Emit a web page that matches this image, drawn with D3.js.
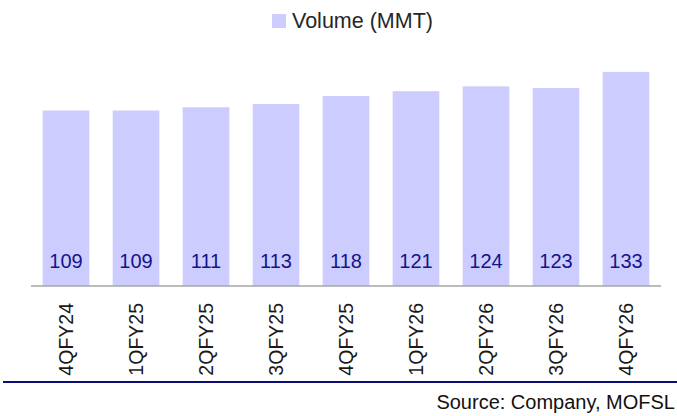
<!DOCTYPE html>
<html>
<head>
<meta charset="utf-8">
<script src="https://cdn.jsdelivr.net/npm/d3@7"></script>
<style>
  body { margin: 0; background: #fff; }
  svg { display: block; font-family: "Liberation Sans", Arial, sans-serif; }
</style>
</head>
<body>
<svg id="chart"></svg>
<script>
// Data
const quarters = ["4QFY24", "1QFY25", "2QFY25", "3QFY25", "4QFY25", "1QFY26", "2QFY26", "3QFY26", "4QFY26"];
const volume = [109, 109, 111, 113, 118, 121, 124, 123, 133];
const seriesName = "Volume (MMT)";
const sourceText = "Source: Company, MOFSL";

const width = 677;
const height = 416;

const svg = d3.select("#chart")
    .attr("width", width)
    .attr("height", height);

// Scales
const x = d3.scaleBand()
    .domain(quarters)
    .range([31, 661])
    .paddingInner(0.333)
    .paddingOuter(0.1667);

const y = d3.scaleLinear()
    .domain([0, 140])
    .range([286, 60.6]);

const rows = quarters.map((q, i) => ({ q: q, v: volume[i] }));

// Bars
svg.append("g")
    .selectAll("rect")
    .data(rows)
    .enter().append("rect")
    .attr("x", d => x(d.q))
    .attr("y", d => y(d.v))
    .attr("width", x.bandwidth())
    .attr("height", d => y(0) - y(d.v))
    .attr("fill", "#ccccff");

// Value labels, sitting near the base of each bar
svg.append("g")
    .selectAll("text")
    .data(rows)
    .enter().append("text")
    .attr("x", d => x(d.q) + x.bandwidth() / 2)
    .attr("y", 267.5)
    .attr("text-anchor", "middle")
    .attr("font-size", 20)
    .attr("fill", "#14148c")
    .text(d => d.v);

// X axis line
svg.append("line")
    .attr("x1", 31).attr("x2", 661)
    .attr("y1", 286).attr("y2", 286)
    .attr("stroke", "#a6a6a6")
    .attr("stroke-width", 1.6);

// Category labels (rotated)
svg.append("g")
    .selectAll("text")
    .data(quarters)
    .enter().append("text")
    .attr("transform", d => `translate(${x(d) + x.bandwidth() / 2 + 7},303) rotate(-90)`)
    .attr("text-anchor", "end")
    .attr("font-size", 19.5)
    .attr("fill", "#1a1a1a")
    .text(d => d);

// Legend
const legend = svg.append("g");
legend.append("rect")
    .attr("x", 272).attr("y", 14)
    .attr("width", 14).attr("height", 14)
    .attr("fill", "#ccccff");
legend.append("text")
    .attr("x", 292).attr("y", 28)
    .attr("font-size", 21.5)
    .attr("fill", "#262626")
    .text(seriesName);

// Bottom rule and source
svg.append("line")
    .attr("x1", 3).attr("x2", 677)
    .attr("y1", 382).attr("y2", 382)
    .attr("stroke", "#0c0c78")
    .attr("stroke-width", 2.2);

svg.append("text")
    .attr("x", 675).attr("y", 409)
    .attr("text-anchor", "end")
    .attr("font-size", 20)
    .attr("fill", "#111")
    .text(sourceText);
</script>
</body>
</html>
